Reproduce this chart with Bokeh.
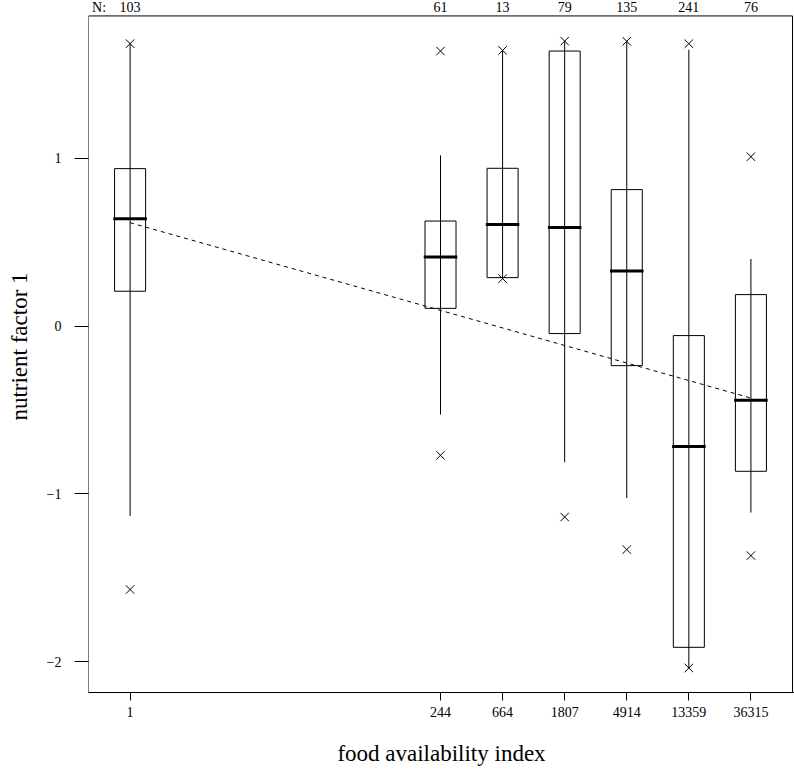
import numpy as np
from bokeh.plotting import figure
from bokeh.models import Range1d, FixedTicker
from bokeh.core.properties import value
from bokeh.embed import file_html
from bokeh.resources import INLINE

# ---- data ----
log_pos = [0.5, 5.5, 6.5, 7.5, 8.5, 9.5, 10.5]          # ln(food availability index) group positions
tick_labels = ["1", "244", "664", "1807", "4914", "13359", "36315"]
n_obs = [103, 61, 13, 79, 135, 241, 76]
q1 = [0.207, 0.105, 0.288, -0.045, -0.236, -1.913, -0.865]
median = [0.639, 0.411, 0.605, 0.586, 0.327, -0.718, -0.442]
q3 = [0.937, 0.625, 0.939, 1.637, 0.812, -0.057, 0.187]
whisker_lo = [-1.131, -0.527, 0.288, -0.811, -1.024, -2.036, -1.111]
whisker_hi = [1.681, 1.016, 1.641, 1.696, 1.695, 1.645, 0.399]
extreme_lo = [-1.569, -0.770, 0.282, -1.137, -1.331, -2.036, -1.367]
extreme_hi = [1.681, 1.637, 1.641, 1.696, 1.695, 1.681, 1.008]
trend_x = [0.5, 10.5]
trend_y = [0.615, -0.429]
y_ticks = [-2, -1, 0, 1]

FONT = "Liberation Serif"
BOX_W = 0.5
# plotting-box limits
X0, X1 = -0.17, 11.17
Y0, Y1 = -2.182, 1.846
# canvas extends a little beyond the box (room for the N row on top)
XR_END = X1 + 0.032
YR_TOP = Y1 + 0.092
N_ROW_Y = Y1 + 0.052
N_LABEL_POS = X0 + 0.17

p = figure(width=794, height=773, output_backend="svg", toolbar_location=None,
           x_range=Range1d(X0, XR_END), y_range=Range1d(Y0, YR_TOP),
           min_border_left=88, min_border_right=0, min_border_top=0, min_border_bottom=81)
p.grid.visible = False
p.outline_line_color = None
p.background_fill_color = "white"
p.border_fill_color = "white"

pos = np.array(log_pos)
half = BOX_W / 2

# plot box
p.quad(left=[X0], right=[X1], bottom=[Y0], top=[Y1], fill_color=None,
       line_color="black", line_width=1)
# whiskers (through the box)
p.segment(x0=pos, y0=whisker_lo, x1=pos, y1=whisker_hi, line_color="black", line_width=1)
# boxes
p.vbar(x=pos, width=BOX_W, bottom=q1, top=q3, fill_alpha=0, line_color="black", line_width=1)
# medians
p.segment(x0=pos - half - 0.02, y0=median, x1=pos + half + 0.02, y1=median,
          line_color="black", line_width=3)
# extremes
p.scatter(x=pos, y=extreme_hi, marker="x", size=12, line_color="black", line_width=1)
p.scatter(x=pos, y=extreme_lo, marker="x", size=12, line_color="black", line_width=1)
# trend line
p.line(trend_x, trend_y, line_color="black", line_width=1, line_dash="4 4")

# N counts along the top
top_x = [N_LABEL_POS] + log_pos
top_labels = ["N:"] + [str(n) for n in n_obs]
p.text(x=top_x, y=[N_ROW_Y] * len(top_x), text=top_labels, text_align="center",
       text_baseline="middle", text_font=value(FONT), text_font_size=value("14px"),
       text_color="black")

# x axis
xa = p.xaxis[0]
xa.ticker = FixedTicker(ticks=log_pos)
xa.major_label_overrides = {float(k): v for k, v in zip(log_pos, tick_labels)}
xa.minor_tick_line_color = None
xa.major_tick_in = 0
xa.major_tick_out = 8
xa.major_label_standoff = 6
xa.axis_line_color = "black"
xa.major_tick_line_color = "black"
xa.major_label_text_font = FONT
xa.major_label_text_font_size = "14px"
xa.major_label_text_color = "black"
xa.axis_label = "food availability index"
xa.axis_label_text_font = FONT
xa.axis_label_text_font_size = "23px"
xa.axis_label_text_font_style = "normal"
xa.axis_label_text_color = "black"
xa.axis_label_standoff = 21

# y axis
ya = p.yaxis[0]
ya.ticker = FixedTicker(ticks=y_ticks)
ya.major_label_overrides = {t: (("\u2212" + str(abs(t))) if t < 0 else str(t)) for t in y_ticks}
ya.minor_tick_line_color = None
ya.major_tick_in = 0
ya.major_tick_out = 14
ya.major_label_standoff = 13
ya.axis_line_color = None
ya.major_tick_line_color = "black"
ya.major_label_text_font = FONT
ya.major_label_text_font_size = "14px"
ya.major_label_text_color = "black"
ya.axis_label = "nutrient factor 1"
ya.axis_label_text_font = FONT
ya.axis_label_text_font_size = "23px"
ya.axis_label_text_font_style = "normal"
ya.axis_label_text_color = "black"
ya.axis_label_standoff = 12

open("out.html", "w").write(file_html(p, INLINE))
